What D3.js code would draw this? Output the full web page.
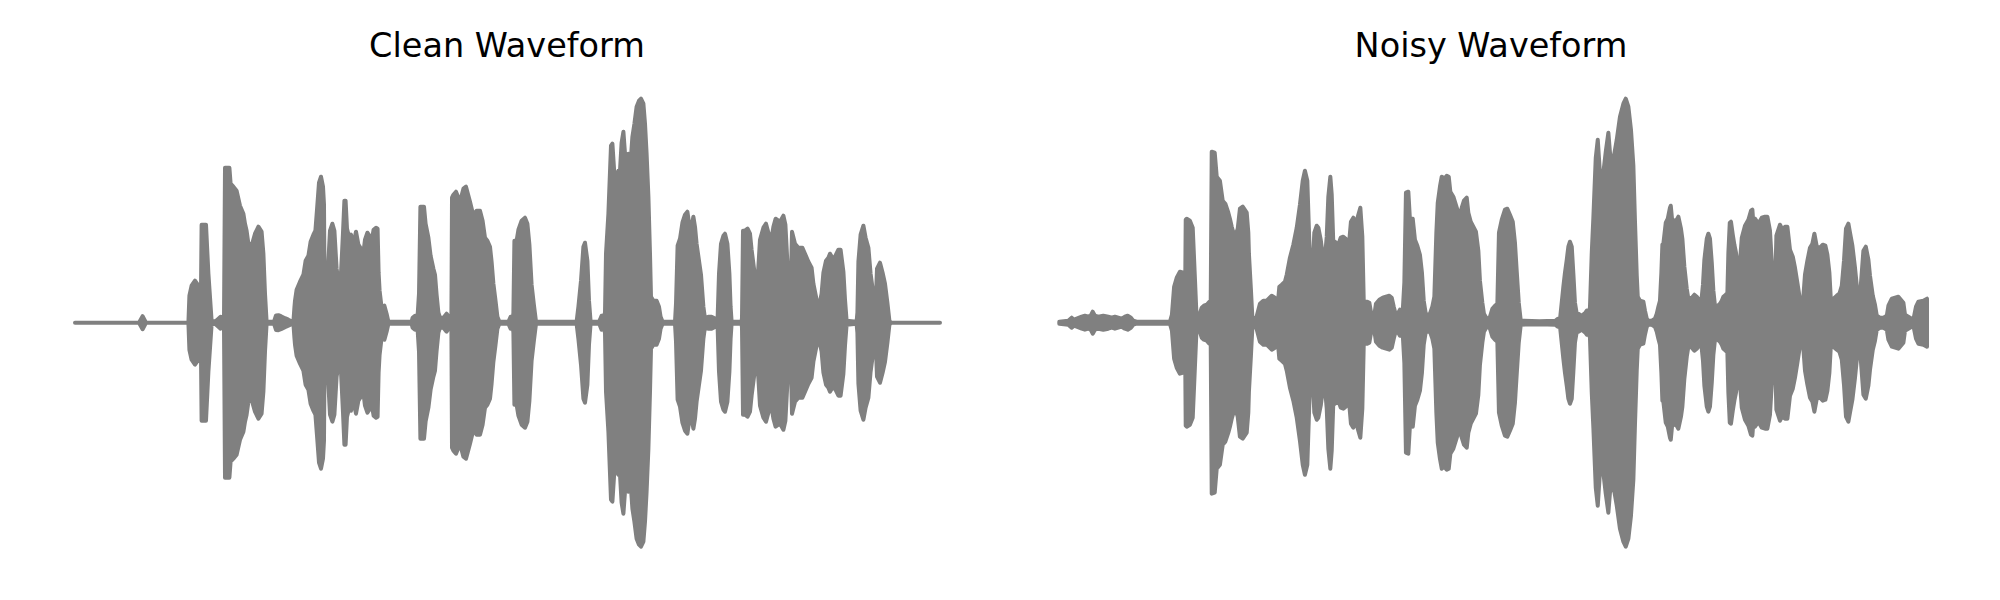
<!DOCTYPE html>
<html><head><meta charset="utf-8">
<script src="https://cdn.jsdelivr.net/npm/d3@7"></script>
<style>body{margin:0;background:#fff}</style>
</head><body>
<svg id="c" width="2000" height="600"></svg>
<script>
// Panel titles
const titles = ["Clean Waveform", "Noisy Waveform"];

// Waveform amplitude envelopes: [time (ms), peak amplitude (int16 counts)]
const cleanEnvelope = [
[0,0],[320,0],[338,650],[355,0],[567,0],[572,2700],[583,3700],[600,4200],[617,3700],[630,3400],
[633,9800],[655,9800],[667,4900],[683,200],[700,100],[717,400],[728,600],[742,400],[745,500],[750,15500],
[772,15500],[778,13900],[792,13600],[808,13200],[825,11700],[842,10900],[850,9900],[858,9200],[867,7900],[883,7700],
[900,8900],[917,9600],[933,9100],[942,6900],[950,2900],[958,100],[995,100],[1005,730],[1017,750],[1030,650],
[1050,450],[1067,300],[1083,150],[1092,100],[1097,1500],[1100,2200],[1108,3300],[1125,4100],[1142,4800],[1153,6200],
[1167,6700],[1178,8100],[1192,8800],[1202,9200],[1210,11300],[1220,14000],[1230,14600],[1240,13600],[1245,11800],[1248,2900],
[1253,2900],[1258,3500],[1267,6200],[1275,9200],[1287,9900],[1297,9200],[1308,5400],[1320,3900],[1330,4900],[1340,9000],
[1347,12200],[1353,12200],[1360,9400],[1370,8600],[1380,8800],[1392,7800],[1405,9100],[1417,7800],[1433,7300],[1442,7000],
[1450,8300],[1462,9000],[1475,8600],[1483,8100],[1493,9300],[1505,9500],[1513,9400],[1518,5000],[1523,3200],[1533,1500],
[1547,1700],[1558,900],[1567,100],[1683,100],[1688,500],[1700,700],[1713,700],[1720,2900],[1727,11600],[1745,11600],
[1753,9900],[1767,8500],[1778,6700],[1792,5400],[1800,4800],[1808,2800],[1817,1000],[1825,500],[1842,500],[1858,900],
[1875,400],[1882,400],[1885,12500],[1892,12800],[1905,13100],[1925,12100],[1942,13400],[1955,13600],[1975,12100],[1992,10700],
[2008,11200],[2025,11200],[2038,10200],[2050,8500],[2062,8200],[2075,7600],[2083,6100],[2092,3900],[2102,2300],[2112,600],
[2122,100],[2167,100],[2178,600],[2190,600],[2192,1000],[2197,8200],[2208,8200],[2217,9300],[2233,10200],[2250,10500],
[2262,9900],[2272,7800],[2283,3800],[2295,1700],[2305,100],[2508,100],[2517,1600],[2530,4200],[2542,7600],[2550,8000],
[2562,6200],[2570,2200],[2578,100],[2620,100],[2625,300],[2633,700],[2642,500],[2650,1000],[2655,6900],[2667,10900],
[2680,17700],[2687,17900],[2697,14800],[2708,14700],[2717,15200],[2725,15200],[2733,18000],[2742,19100],[2750,16900],[2757,16300],
[2762,5600],[2767,16900],[2780,16600],[2787,18600],[2797,19900],[2808,21600],[2820,22200],[2830,22400],[2842,21900],[2850,19900],
[2858,16900],[2867,12600],[2875,6900],[2880,2600],[2892,2200],[2908,2200],[2920,1600],[2928,600],[2938,100],[3000,100],
[3005,1900],[3013,7700],[3025,8400],[3037,10000],[3050,10800],[3062,11100],[3075,9300],[3083,9600],[3092,10600],[3100,9600],
[3108,7900],[3120,6200],[3130,4800],[3142,1600],[3150,400],[3167,600],[3183,600],[3203,400],[3213,400],[3220,4900],
[3230,7900],[3242,8700],[3250,8900],[3262,7900],[3272,4900],[3278,1600],[3283,100],[3333,100],[3335,500],[3340,9200],
[3350,9200],[3363,9400],[3375,8900],[3383,7300],[3397,5100],[3408,2800],[3417,5600],[3425,8300],[3442,9500],[3455,9900],
[3467,9000],[3480,8100],[3492,9600],[3503,10400],[3517,10200],[3528,10200],[3542,10700],[3552,9800],[3562,6000],[3570,3400],
[3577,1800],[3585,9100],[3600,7900],[3617,7500],[3637,7500],[3650,6900],[3667,6100],[3683,5500],[3692,3900],[3708,2300],
[3722,1800],[3733,2900],[3742,5000],[3755,6200],[3767,6500],[3775,6900],[3787,6500],[3800,6600],[3817,7300],[3828,7300],
[3842,5100],[3850,2300],[3858,200],[3908,100],[3912,1000],[3917,6100],[3928,8800],[3942,9700],[3953,8500],[3967,7500],
[3978,4900],[3992,2800],[4003,1600],[4010,5400],[4025,6000],[4038,5000],[4050,3900],[4062,2000],[4072,200],[4080,0],
[4325,0]
];

const noisyEnvelope = [
[0,100],[45,200],[62,500],[74,300],[87,400],[112,600],[128,700],[145,600],[157,700],[167,1100],
[178,700],[195,600],[220,700],[245,600],[262,500],[278,600],[295,500],[312,400],[328,600],[342,700],
[358,500],[370,200],[387,100],[553,100],[563,800],[574,3600],[587,4500],[603,5100],[620,5000],[630,5000],
[632,10300],[637,10400],[653,10200],[667,9500],[677,4900],[687,200],[695,400],[712,1500],[723,1700],[737,1800],
[750,2100],[757,2100],[762,17100],[777,17000],[787,14600],[803,14200],[817,12200],[830,11900],[845,11000],[853,10400],
[862,9600],[878,8500],[892,9400],[903,11400],[917,11600],[937,11000],[945,9000],[948,6900],[958,3300],[965,600],
[975,400],[985,500],[1003,1900],[1020,2200],[1037,2200],[1062,2700],[1078,2500],[1092,1800],[1100,3600],[1112,3800],
[1128,4100],[1137,4800],[1153,6500],[1170,7800],[1187,9500],[1203,11800],[1217,14200],[1228,15200],[1240,14200],[1250,8000],
[1258,3100],[1265,5000],[1275,9000],[1287,9700],[1295,9500],[1307,8300],[1320,6300],[1328,6500],[1337,8600],[1345,12600],
[1355,14600],[1362,12800],[1370,7900],[1378,8100],[1395,7800],[1407,8500],[1420,8600],[1432,8400],[1445,7100],[1458,10100],
[1470,10500],[1482,9800],[1495,10800],[1505,11500],[1515,8600],[1522,2200],[1528,2100],[1540,2100],[1550,2000],[1562,600],
[1573,500],[1583,1900],[1600,2300],[1617,2500],[1633,2600],[1650,2700],[1662,2500],[1672,1600],[1682,800],[1695,1000],
[1703,1300],[1712,1200],[1718,1500],[1725,4000],[1733,13000],[1745,13100],[1753,10300],[1767,10400],[1778,8300],[1790,7700],
[1803,6800],[1813,5000],[1822,2200],[1833,800],[1853,900],[1865,1600],[1875,2600],[1885,9000],[1892,12000],[1903,13600],
[1912,14600],[1925,14400],[1937,14700],[1947,14600],[1955,13100],[1970,12600],[1987,11500],[2000,10600],[2012,11500],[2023,12200],
[2037,12500],[2045,11000],[2057,10100],[2070,9600],[2083,9100],[2095,7200],[2103,4200],[2115,2000],[2123,900],[2140,300],
[2153,600],[2165,1400],[2178,1700],[2190,1900],[2198,9000],[2212,10300],[2228,11300],[2240,11400],[2253,10800],[2267,10100],
[2278,8000],[2287,5100],[2297,2000],[2307,200],[2400,150],[2480,200],[2492,400],[2503,300],[2520,3600],[2528,5000],[2537,6300],
[2545,7600],[2553,8100],[2562,7600],[2570,4900],[2578,2000],[2587,900],[2595,900],[2603,800],[2612,700],[2630,1000],
[2637,1200],[2645,1000],[2653,1500],[2662,7000],[2670,10500],[2682,16500],[2692,18300],[2703,14900],[2720,15000],[2732,17100],
[2745,19000],[2753,17000],[2760,16500],[2765,5600],[2770,16500],[2775,16900],[2787,18300],[2803,20600],[2820,21900],[2832,22400],
[2845,21600],[2858,19300],[2870,15700],[2878,10200],[2887,4700],[2892,2600],[2903,2200],[2920,2100],[2928,1200],[2937,400],
[2945,200],[2962,200],[2978,400],[2987,900],[2995,1600],[3003,2200],[3010,5000],[3015,7800],[3020,7900],[3032,10000],
[3042,10400],[3053,11500],[3057,11700],[3065,10000],[3075,10200],[3087,10300],[3095,10600],[3108,9400],[3115,8400],[3125,5600],
[3137,3400],[3145,2400],[3162,2500],[3175,2800],[3187,2600],[3198,2300],[3208,1800],[3218,3800],[3225,6300],[3237,8400],
[3245,8900],[3253,8400],[3262,6000],[3270,3200],[3278,1700],[3292,1700],[3303,1900],[3312,2200],[3320,2600],[3332,2800],
[3340,3000],[3345,7000],[3352,10000],[3358,10100],[3367,8800],[3375,7800],[3383,7000],[3392,5600],[3397,5000],[3403,6000],
[3412,8500],[3428,9700],[3445,10300],[3458,11200],[3465,11300],[3470,9900],[3478,10400],[3495,9900],[3512,10500],[3528,10600],
[3540,10600],[3553,9200],[3562,6100],[3570,3300],[3578,2900],[3585,8700],[3603,9800],[3615,9300],[3628,9600],[3640,9600],
[3653,7300],[3667,6600],[3678,5500],[3690,4000],[3703,2300],[3712,2000],[3720,2600],[3728,4800],[3740,6200],[3753,7500],
[3765,7900],[3775,8900],[3787,7600],[3803,7500],[3817,7800],[3830,7700],[3840,6800],[3850,5000],[3857,2400],[3870,2400],
[3887,2700],[3900,2900],[3912,3700],[3923,6200],[3933,9400],[3945,9900],[3953,9000],[3965,7700],[3978,5500],[3990,3100],
[4003,2600],[4020,7200],[4032,7600],[4045,6300],[4053,4700],[4067,2700],[4078,1800],[4087,700],[4103,500],[4120,500],
[4137,700],[4145,1700],[4162,2400],[4195,2600],[4220,2000],[4228,800],[4253,500],[4270,300],[4283,1600],[4295,2100],
[4320,2200],[4338,2400]
];

const svg = d3.select("#c");
const panels = [
  {title: titles[0], data: cleanEnvelope, x0: 75, x1: 940, cx: 507},
  {title: titles[1], data: noisyEnvelope, x0: 1059.3, x1: 1927, cx: 1491}
];
const y = d3.scaleLinear().domain([-25000, 25000]).range([572.7, 72.7]);

panels.forEach(p => {
  const tMax = d3.max(p.data, d => d[0]);
  const x = d3.scaleLinear().domain([0, tMax]).range([p.x0, p.x1]);
  const area = d3.area()
    .x(d => x(d[0]))
    .y0(d => y(-d[1]))
    .y1(d => y(d[1]));
  svg.append("path")
    .attr("d", area(p.data))
    .attr("fill", "#808080")
    .attr("stroke", "#808080")
    .attr("stroke-width", 4)
    .attr("stroke-linejoin", "round")
    .attr("stroke-linecap", "round");
  svg.append("text")
    .attr("x", p.cx)
    .attr("y", 56.7)
    .attr("text-anchor", "middle")
    .attr("font-family", "DejaVu Sans")
    .attr("font-size", 33.5)
    .attr("fill", "#000")
    .text(p.title);
});
</script>
</body></html>
